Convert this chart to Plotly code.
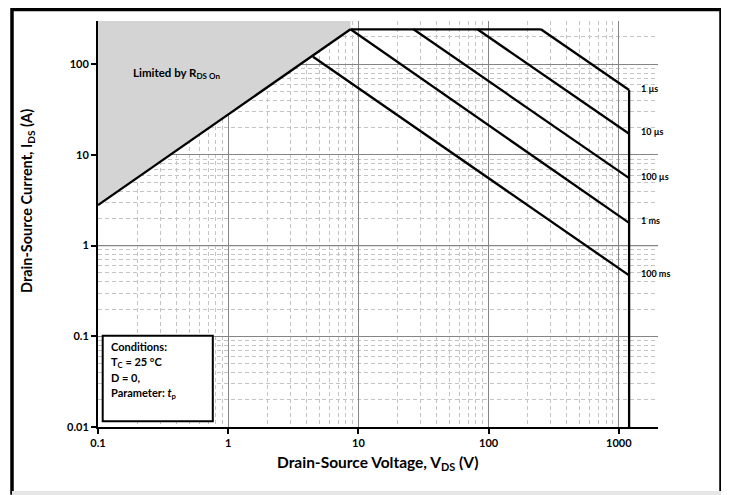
import numpy as np
import plotly.graph_objects as go

# ---------------- data ----------------
x_tick_vals = [0.1, 1, 10, 100, 1000]
x_tick_text = ["0.1", "1", "10", "100", "1000"]
y_tick_vals = [0.01, 0.1, 1, 10, 100]
y_tick_text = ["0.01", "0.1", "1", "10", "100"]

x_minor = [m * d for d in [0.1, 1, 10, 100, 1000] for m in range(2, 10)]
x_minor = [v for v in x_minor if v <= 2000]
y_minor = [m * d for d in [0.01, 0.1, 1, 10, 100] for m in range(2, 10)]
y_minor = [v for v in y_minor if v <= 300]

x_range = [0.1, 2000]
y_range = [0.01, 300]

# R_DS(on) limit line
rds_v = [0.1, 8.7]
rds_i = [2.8, 243]

# shaded "Limited by R_DS On" region
shade_v = [0.1, 8.7, 8.7, 0.1]
shade_i = [2.8, 243, 300, 300]

# maximum pulsed current (flat top)
flat_v = [8.7, 252]
flat_i = [243, 243]

# pulse-width lines (start point -> end at V_DS max)
pulse_labels = ["1 µs", "10 µs", "100 µs", "1 ms", "100 ms"]
pulse_start_v = [252, 82, 26.5, 8.7, 4.48]
pulse_start_i = [243, 243, 243, 243, 121]
vds_max = 1200
pulse_end_i = [52, 17.1, 5.55, 1.78, 0.47]

# vertical V_DS max boundary
vmax_v = [1200, 1200]
vmax_i = [52, 0.01]

# ---------------- figure ----------------
FONT = "Lato"
fig = go.Figure()

fig.add_trace(go.Scatter(x=shade_v, y=shade_i, mode="lines", fill="toself",
                         fillcolor="#d4d4d4", line=dict(width=0),
                         hoverinfo="skip", showlegend=False))

line_style = dict(color="black", width=2.3)
fig.add_trace(go.Scatter(x=rds_v, y=rds_i, mode="lines", line=line_style, showlegend=False))
fig.add_trace(go.Scatter(x=flat_v, y=flat_i, mode="lines", line=line_style, showlegend=False))
for lab, sv, si, ei in zip(pulse_labels, pulse_start_v, pulse_start_i, pulse_end_i):
    fig.add_trace(go.Scatter(x=[sv, vds_max], y=[si, ei], mode="lines",
                             line=line_style, name=lab, showlegend=False))
fig.add_trace(go.Scatter(x=vmax_v, y=vmax_i, mode="lines", line=line_style, showlegend=False))

# pulse labels at line ends
for lab, ei in zip(pulse_labels, pulse_end_i):
    fig.add_annotation(x=np.log10(vds_max), y=np.log10(ei), xref="x", yref="y",
                       text=lab, showarrow=False, xanchor="left", yanchor="middle",
                       xshift=10, yshift=2,
                       font=dict(family=FONT, size=9, color="black", weight="bold"))

# darker decade line at 10 A
fig.add_shape(type="line", xref="paper", yref="y", x0=0, x1=1, y0=1, y1=1,
              line=dict(color="black", width=1), layer="below")

# conditions box
fig.add_shape(type="rect", xref="paper", yref="paper",
              x0=0.0084, x1=0.205, y0=0.014, y1=0.225,
              line=dict(color="black", width=2), fillcolor="white", layer="above")
cond_lines = ["Conditions:", "T<sub>C</sub> = 25 °C", "D = 0,", "Parameter: <i>t</i><sub>p</sub>"]
cond_y = [346.7, 362, 377.7, 393.3]
for txt, py in zip(cond_lines, cond_y):
    fig.add_annotation(x=(109 - 98) / 560, y=(427 - py) / 406, xref="paper", yref="paper",
                       text=txt, showarrow=False, xanchor="left", yanchor="middle",
                       font=dict(family=FONT, size=11, color="black", weight="bold"))

fig.add_annotation(x=(131 - 98) / 560, y=(427 - 73.5) / 406, xref="paper", yref="paper",
                   text="Limited by R<sub>DS On</sub>", showarrow=False,
                   xanchor="left", yanchor="middle",
                   font=dict(family=FONT, size=11.5, color="black", weight="bold"))

# axis titles
fig.add_annotation(x=0.5, y=(427 - 463.5) / 406, xref="paper", yref="paper",
                   text="Drain-Source Voltage, V<sub>DS</sub> (V)", showarrow=False,
                   xanchor="center", yanchor="middle",
                   font=dict(family=FONT, size=15.5, color="black", weight="bold"))
fig.add_annotation(x=(27 - 98) / 560, y=(427 - 201) / 406, xref="paper", yref="paper",
                   text="Drain-Source Current, I<sub>DS</sub> (A)", showarrow=False,
                   textangle=-90, xanchor="center", yanchor="middle",
                   font=dict(family=FONT, size=14.5, color="black", weight="bold"))

# outer frame
fig.add_shape(type="rect", xref="paper", yref="paper",
              x0=(12 - 98) / 560, x1=(721 - 98) / 560,
              y0=(427 - 493) / 406, y1=(427 - 9.5) / 406,
              line=dict(color="black", width=3.5), layer="below")
fig.add_shape(type="line", xref="paper", yref="paper",
              x0=(12 - 98) / 560, x1=(721 - 98) / 560,
              y0=(427 - 493) / 406, y1=(427 - 493) / 406,
              line=dict(color="#e6e6e6", width=4), layer="above")

tickfont = dict(family=FONT, size=11, color="black", weight="bold")
common = dict(tickfont=tickfont, ticks="outside", ticklen=5, tickwidth=1.5, tickcolor="black",
              showline=True, linecolor="black", linewidth=2, mirror=False,
              showgrid=True, gridcolor="#858585", gridwidth=1.3, zeroline=False)
fig.update_xaxes(type="log", range=[np.log10(x_range[0]), np.log10(x_range[1])],
                 tickmode="array", tickvals=x_tick_vals, ticktext=x_tick_text,
                 minor=dict(tickmode="array", tickvals=x_minor, showgrid=True,
                            gridcolor="#c4c4c4", griddash="4px,3px", gridwidth=1, ticks=""),
                 **common)
fig.update_yaxes(type="log", range=[np.log10(y_range[0]), np.log10(y_range[1])],
                 tickmode="array", tickvals=y_tick_vals, ticktext=y_tick_text,
                 minor=dict(tickmode="array", tickvals=y_minor, showgrid=True,
                            gridcolor="#c4c4c4", griddash="4px,3px", gridwidth=1, ticks=""),
                 **common)

# the page body adds an 8px offset, so margins are shifted by 8px
fig.update_layout(width=729, height=495, margin=dict(l=90, r=79, t=13, b=76),
                  plot_bgcolor="white", paper_bgcolor="white", showlegend=False)

fig.write_html("out.html")
